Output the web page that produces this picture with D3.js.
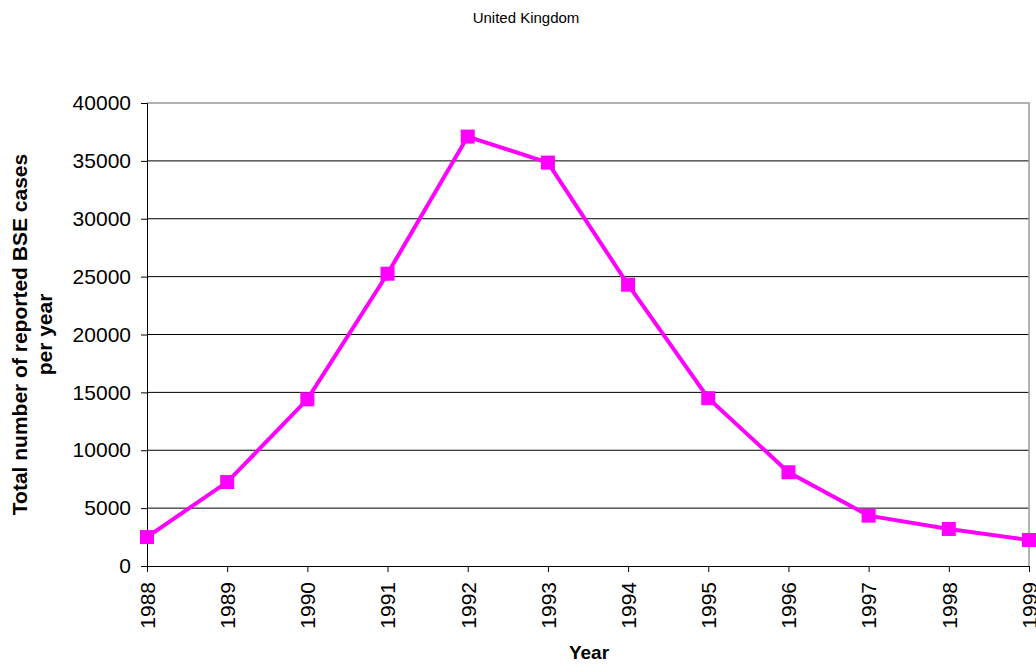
<!DOCTYPE html>
<meta charset="utf-8">
<style>
    body { margin: 0; background: #fff; font-family: "Liberation Sans", Arial, sans-serif; }
    .grid line { stroke: #000; stroke-width: 1px; }
    .axis text { font-size: 21px; fill: #000; }
    .axis path, .axis line { stroke: #000; }
</style>
<title>United Kingdom</title>
<script src="https://d3js.org/d3.v7.min.js"></script>
<body>
<div id="chart"></div>
<script>
    var years = [1988, 1989, 1990, 1991, 1992, 1993, 1994, 1995, 1996, 1997, 1998, 1999];
    var cases = [2500, 7250, 14400, 25250, 37100, 34850, 24300, 14500, 8100, 4350, 3200, 2250];
    var yTicks = [0, 5000, 10000, 15000, 20000, 25000, 30000, 35000, 40000];

    var canvasWidth = 1036, canvasHeight = 664;
    var margin = {top: 103, right: 7, bottom: 98, left: 147};
    var width = canvasWidth - margin.left - margin.right,
        height = canvasHeight - margin.top - margin.bottom;

    var svg = d3.select("#chart").append("svg")
        .attr("width", canvasWidth)
        .attr("height", canvasHeight);

    var g = svg.append("g").attr("transform", "translate(" + margin.left + "," + margin.top + ")");

    var x = d3.scalePoint().domain(years).range([0, width]);
    var y = d3.scaleLinear().domain([0, 40000]).range([height, 0]);

    // gridlines
    g.append("g").attr("class", "grid")
        .selectAll("line")
        .data(yTicks.filter(function(d) { return d > 0 && d < 40000; }))
        .enter().append("line")
        .attr("x1", 0).attr("x2", width)
        .attr("y1", function(d) { return y(d); })
        .attr("y2", function(d) { return y(d); });

    // gray frame top/right
    g.append("path")
        .attr("d", "M0," + y(40000) + "H" + width + "V" + height)
        .attr("fill", "none")
        .attr("stroke", "#999")
        .attr("stroke-width", 1.5);

    g.append("g")
        .attr("class", "axis")
        .call(d3.axisLeft(y).tickValues(yTicks).tickSize(6).tickPadding(10).tickFormat(d3.format("d")));

    var xAxis = g.append("g")
        .attr("class", "axis")
        .attr("transform", "translate(0," + height + ")")
        .call(d3.axisBottom(x).tickSize(6).tickSizeOuter(0));

    xAxis.selectAll("text")
        .attr("transform", "rotate(-90)")
        .attr("text-anchor", "end")
        .attr("x", -16)
        .attr("y", 0)
        .attr("dy", "0.35em");

    var line = d3.line()
        .x(function(d, i) { return x(years[i]); })
        .y(function(d) { return y(d); });

    g.append("path")
        .datum(cases)
        .attr("fill", "none")
        .attr("stroke", "#ff00ff")
        .attr("stroke-width", 4)
        .attr("d", line);

    g.selectAll(".marker")
        .data(cases)
        .enter().append("rect")
        .attr("class", "marker")
        .attr("x", function(d, i) { return x(years[i]) - 7; })
        .attr("y", function(d) { return y(d) - 7; })
        .attr("width", 14)
        .attr("height", 14)
        .attr("fill", "#ff00ff");

    svg.append("text")
        .attr("x", 526).attr("y", 23)
        .attr("text-anchor", "middle")
        .style("font-size", "15px")
        .text("United Kingdom");

    svg.append("text")
        .attr("x", 589).attr("y", 659)
        .attr("text-anchor", "middle")
        .style("font-size", "19px")
        .style("font-weight", "bold")
        .text("Year");

    var ylab = svg.append("text")
        .attr("transform", "translate(27," + (margin.top + height / 2) + ") rotate(-90)")
        .attr("text-anchor", "middle")
        .style("font-size", "21px")
        .style("font-weight", "bold");
    ylab.append("tspan").attr("x", 0).attr("dy", 0).text("Total number of reported BSE cases");
    ylab.append("tspan").attr("x", 0).attr("dy", 25).text("per year");
</script>
</body>
